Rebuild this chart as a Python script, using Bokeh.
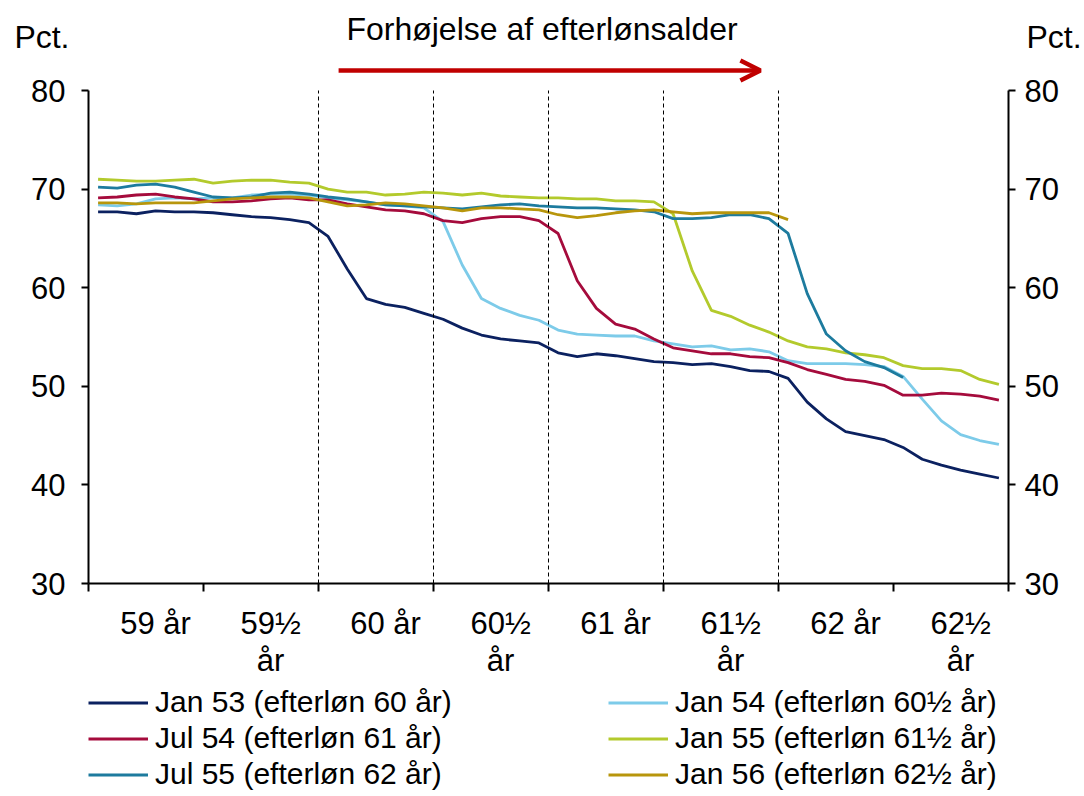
import numpy as np
from bokeh.plotting import figure
from bokeh.layouts import column
from bokeh.models import (Range1d, LinearAxis, FixedTicker, Legend, LegendItem,
                          Label, Arrow, OpenHead)
from bokeh.embed import file_html
from bokeh.resources import INLINE

# ---------------- data ----------------
months_per_group = 6
group_labels = ["59 år", "59½\når", "60 år", "60½\når", "61 år", "61½\når", "62 år", "62½\når"]
threshold_groups = [2, 3, 4, 5, 6]   # 60, 60½, 61, 61½, 62 år

names = ["Jan 53 (efterløn 60 år)", "Jan 54 (efterløn 60½ år)", "Jul 54 (efterløn 61 år)",
         "Jan 55 (efterløn 61½ år)", "Jul 55 (efterløn 62 år)", "Jan 56 (efterløn 62½ år)"]

jan53 = [67.7, 67.7, 67.5, 67.8, 67.7, 67.7, 67.6, 67.4, 67.2, 67.1, 66.9, 66.6,
         65.2, 61.9, 58.9, 58.3, 58.0, 57.4, 56.8, 55.9, 55.2, 54.8, 54.6, 54.4,
         53.4, 53.0, 53.3, 53.1, 52.8, 52.5, 52.4, 52.2, 52.3, 52.0, 51.6, 51.5,
         50.8, 48.4, 46.7, 45.4, 45.0, 44.6, 43.8, 42.6, 42.0, 41.5, 41.1, 40.7]
jan54 = [68.4, 68.3, 68.5, 69.0, 69.1, 69.0, 69.1, 69.1, 69.4, 69.5, 69.5, 69.4,
         69.1, 68.9, 68.7, 68.4, 68.3, 68.1, 66.7, 62.3, 58.9, 57.9, 57.2, 56.7,
         55.7, 55.3, 55.2, 55.1, 55.1, 54.6, 54.3, 54.0, 54.1, 53.7, 53.8, 53.5,
         52.6, 52.3, 52.3, 52.3, 52.2, 52.0, 51.0, 48.7, 46.5, 45.1, 44.5, 44.1]
jul54 = [69.1, 69.2, 69.4, 69.5, 69.2, 69.0, 68.7, 68.7, 68.8, 69.0, 69.1, 68.9,
         68.9, 68.5, 68.2, 67.9, 67.8, 67.5, 66.8, 66.6, 67.0, 67.2, 67.2, 66.8,
         65.5, 60.7, 57.9, 56.3, 55.8, 54.8, 53.9, 53.6, 53.3, 53.3, 53.0, 52.9,
         52.4, 51.7, 51.2, 50.7, 50.5, 50.1, 49.1, 49.1, 49.3, 49.2, 49.0, 48.6]
jan55 = [71.0, 70.9, 70.8, 70.8, 70.9, 71.0, 70.6, 70.8, 70.9, 70.9, 70.7, 70.6,
         70.0, 69.7, 69.7, 69.4, 69.5, 69.7, 69.6, 69.4, 69.6, 69.3, 69.2, 69.1,
         69.1, 69.0, 69.0, 68.8, 68.8, 68.7, 67.5, 61.7, 57.7, 57.1, 56.2, 55.5,
         54.6, 54.0, 53.8, 53.4, 53.2, 52.9, 52.1, 51.8, 51.8, 51.6, 50.7, 50.2]
jul55 = [70.2, 70.1, 70.4, 70.5, 70.2, 69.7, 69.2, 69.1, 69.2, 69.6, 69.7, 69.5,
         69.2, 69.0, 68.7, 68.4, 68.3, 68.2, 68.1, 68.0, 68.2, 68.4, 68.5, 68.3,
         68.2, 68.1, 68.1, 68.0, 67.9, 67.7, 67.0, 67.0, 67.1, 67.4, 67.4, 67.0,
         65.5, 59.4, 55.3, 53.6, 52.5, 51.9, 50.9]
jan56 = [68.6, 68.6, 68.5, 68.6, 68.6, 68.6, 68.8, 69.0, 69.1, 69.2, 69.2, 69.1,
         68.7, 68.3, 68.4, 68.6, 68.5, 68.3, 68.1, 67.8, 68.1, 68.1, 68.0, 67.9,
         67.4, 67.1, 67.3, 67.6, 67.8, 67.9, 67.7, 67.5, 67.6, 67.6, 67.6, 67.6,
         66.9]

series = [jan53, jan54, jul54, jan55, jul55, jan56]
colors = ["#0B2160", "#7DCBE9", "#A50B3C", "#B3CA2C", "#1D7B9E", "#B8960C"]

y_min, y_max = 30, 80
y_ticks = [30, 40, 50, 60, 70, 80]

FONT = "Liberation Sans"
LW = 2.8
n_months = months_per_group * len(group_labels)
W = 1084
TOP_H = 55
MAIN_H = 630
BOT_H = 796 - TOP_H - MAIN_H

# ---------------- top strip: title and unit labels ----------------
top = figure(width=W, height=TOP_H, x_range=Range1d(88, 1015), y_range=Range1d(0, TOP_H),
             output_backend="svg", toolbar_location=None,
             x_axis_location=None, y_axis_location=None,
             min_border_left=0, min_border_right=0, min_border_top=0, min_border_bottom=0)
top.outline_line_color = None
top.xgrid.visible = False
top.ygrid.visible = False
for side, standoff in (("left", 13), ("right", 12)):
    ua = LinearAxis(ticker=FixedTicker(ticks=[TOP_H - 38], minor_ticks=[]))
    ua.major_label_overrides = {TOP_H - 38: "Pct."}
    ua.axis_line_color = None
    ua.major_tick_line_color = None
    ua.minor_tick_line_color = None
    ua.major_label_standoff = standoff
    ua.major_label_text_font = FONT
    ua.major_label_text_font_size = "32px"
    ua.major_label_text_color = "black"
    top.add_layout(ua, side)
top.add_layout(Label(x=545, y=TOP_H - 28, text="Forhøjelse af efterlønsalder", text_font=FONT,
                     text_font_size="32px", text_color="black",
                     text_align="center", text_baseline="middle"))

# ---------------- main chart ----------------
px_per_unit = (583 - 90) / (y_max - y_min)
y_top = y_max + (90 - TOP_H) / px_per_unit       # frame extends above 80 for the arrow
p = figure(width=W, height=MAIN_H, output_backend="svg", toolbar_location=None,
           x_range=Range1d(0, n_months), y_range=Range1d(y_min, y_top),
           x_axis_location=None, y_axis_location=None,
           min_border_left=88, min_border_right=69, min_border_top=0, min_border_bottom=102)
p.outline_line_color = None
p.xgrid.visible = False
p.ygrid.visible = False

for vals, col in zip(series, colors):
    x = np.arange(len(vals)) + 0.5
    p.line(x, vals, line_color=col, line_width=LW)

thr = [g * months_per_group for g in threshold_groups]
p.segment(x0=thr, y0=[y_min] * len(thr), x1=thr, y1=[y_max] * len(thr),
          line_color="black", line_dash="4 3", line_width=1)

for side, standoff in (("left", 16), ("right", 9)):
    ax = LinearAxis(ticker=FixedTicker(ticks=y_ticks, minor_ticks=[]), bounds=(y_min, y_max))
    ax.axis_line_width = 2
    ax.axis_line_color = "black"
    ax.major_tick_line_width = 2
    ax.major_tick_out = 7
    ax.major_tick_in = 0
    ax.minor_tick_line_color = None
    ax.major_label_text_font = FONT
    ax.major_label_text_font_size = "31px"
    ax.major_label_text_color = "black"
    ax.major_label_standoff = standoff
    p.add_layout(ax, side)

label_pos = [g * months_per_group + 3.5 for g in range(len(group_labels))]
xax = LinearAxis(ticker=FixedTicker(ticks=label_pos,
                                    minor_ticks=[g * months_per_group for g in range(len(group_labels) + 1)]))
xax.major_label_overrides = {pos: lab for pos, lab in zip(label_pos, group_labels)}
xax.axis_line_width = 2
xax.axis_line_color = "black"
xax.major_tick_out = 0
xax.major_tick_in = 0
xax.major_tick_line_color = None
xax.minor_tick_out = 8
xax.minor_tick_in = 0
xax.minor_tick_line_width = 2
xax.minor_tick_line_color = "black"
xax.major_label_text_font = FONT
xax.major_label_text_font_size = "31px"
xax.major_label_text_color = "black"
xax.major_label_text_line_height = 1.07
xax.major_label_standoff = 14
p.add_layout(xax, "below")

arrow_y = y_max + (90 - 70) / px_per_unit
p.add_layout(Arrow(x_start=(340 - 88) / 927 * n_months, y_start=arrow_y,
                   x_end=(765 - 88) / 927 * n_months, y_end=arrow_y,
                   line_color="#C00000", line_width=4.5,
                   end=OpenHead(size=20, line_color="#C00000", line_width=4.5)))

# ---------------- legend strip ----------------
bot = figure(width=W, height=BOT_H, x_range=Range1d(0, 1), y_range=Range1d(0, 1),
             output_backend="svg", toolbar_location=None,
             x_axis_location=None, y_axis_location=None,
             min_border_left=0, min_border_right=0, min_border_top=0, min_border_bottom=0)
bot.outline_line_color = None
bot.xgrid.visible = False
bot.ygrid.visible = False
items = []
for nm, vals, col in zip(names, series, colors):
    r = bot.line(np.arange(len(vals)) + 0.5, vals, line_color=col, line_width=LW)
    items.append(LegendItem(label=nm, renderers=[r]))
legend = Legend(items=items, ncols=2, location="top_left", orientation="horizontal",
                label_text_font=FONT, label_text_font_size="30px", label_text_color="black",
                glyph_width=60, glyph_height=31, label_height=31, label_standoff=7,
                label_width=451, spacing=2, padding=0, margin=0,
                border_line_color=None, background_fill_alpha=0)
bot.add_layout(legend, "center")

layout = column(top, p, bot, spacing=0)
open("out.html", "w").write(file_html(layout, INLINE))
